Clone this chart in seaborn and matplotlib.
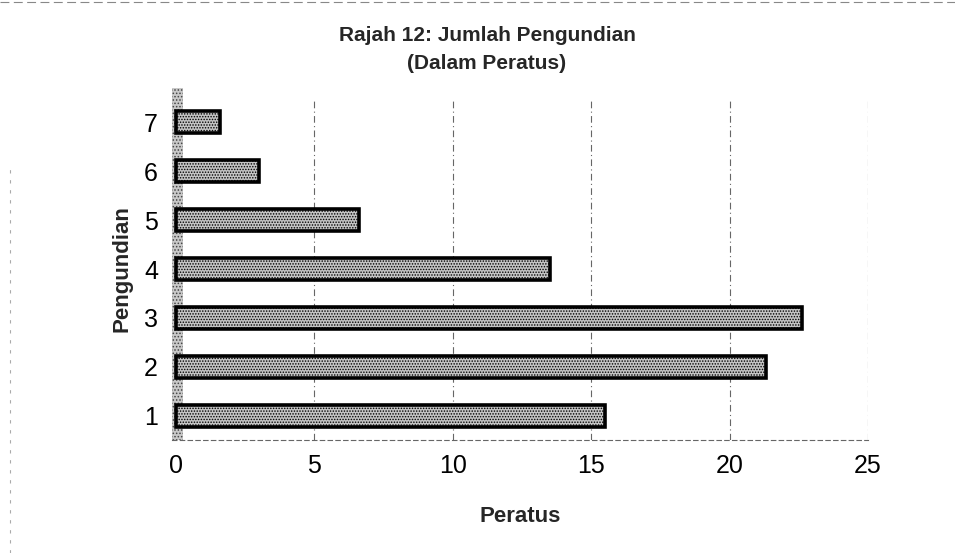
import matplotlib.pyplot as plt
from matplotlib.lines import Line2D
import pandas as pd
import seaborn as sns

# data
categories = ['7', '6', '5', '4', '3', '2', '1']
percent = [1.6, 3.0, 6.6, 13.5, 22.6, 21.3, 15.5]
x_ticks = [0, 5, 10, 15, 20, 25]

df = pd.DataFrame({'Pengundian': categories, 'Peratus': percent})

sns.set_theme(style='white')
plt.rcParams['font.family'] = ['Liberation Sans', 'DejaVu Sans']
plt.rcParams['hatch.linewidth'] = 0.7

fig = plt.figure(figsize=(9.55, 5.53), dpi=100)
ax = fig.add_axes([0.180, 0.204, 0.729, 0.619])

# shaded side wall of the 3D chart
ax.axvspan(-0.15, 0.25, ymin=0, ymax=1.03, facecolor='#c8c8c8',
           edgecolor='#444444', hatch='.....', linewidth=0, zorder=1,
           clip_on=False)

sns.barplot(data=df, x='Peratus', y='Pengundian', order=categories,
            orient='h', color='#c4c4c4', width=0.45, saturation=1,
            edgecolor='black', linewidth=2.6, ax=ax, zorder=3)
for p in ax.patches[1:]:
    p.set_hatch('......')

ax.set_xlim(-0.15, 25)
ax.set_ylim(6.5, -0.5)
ax.set_xticks(x_ticks)
ax.tick_params(axis='both', labelsize=18, colors='black', length=0, pad=10)
for x in x_ticks[1:]:
    ax.axvline(x, color='#666666', linestyle=(0, (6, 3, 1, 3)),
               linewidth=0.8, zorder=0)
for s in ['top', 'right', 'left']:
    ax.spines[s].set_visible(False)
ax.spines['bottom'].set_color('#666666')
ax.spines['bottom'].set_linestyle((0, (4, 3)))
ax.spines['bottom'].set_linewidth(0.8)

ax.set_xlabel('Peratus', fontsize=16, fontweight='bold', labelpad=20)
ax.set_ylabel('Pengundian', fontsize=16, fontweight='bold', labelpad=8)
fig.text(0.51, 0.925, 'Rajah 12: Jumlah Pengundian', ha='center',
         fontsize=15, fontweight='bold')
fig.text(0.51, 0.875, '(Dalam Peratus)', ha='center',
         fontsize=15, fontweight='bold')

# faint page border from the scanned original
fig.add_artist(Line2D([0.0, 1.0], [0.996, 0.996], color='#888888',
                      linewidth=0.8, linestyle=(0, (8, 4))))
fig.add_artist(Line2D([0.01, 0.01], [0.0, 0.7], color='#aaaaaa',
                      linewidth=0.8, linestyle=(0, (3, 6))))

fig.savefig('out.png', dpi=100)
